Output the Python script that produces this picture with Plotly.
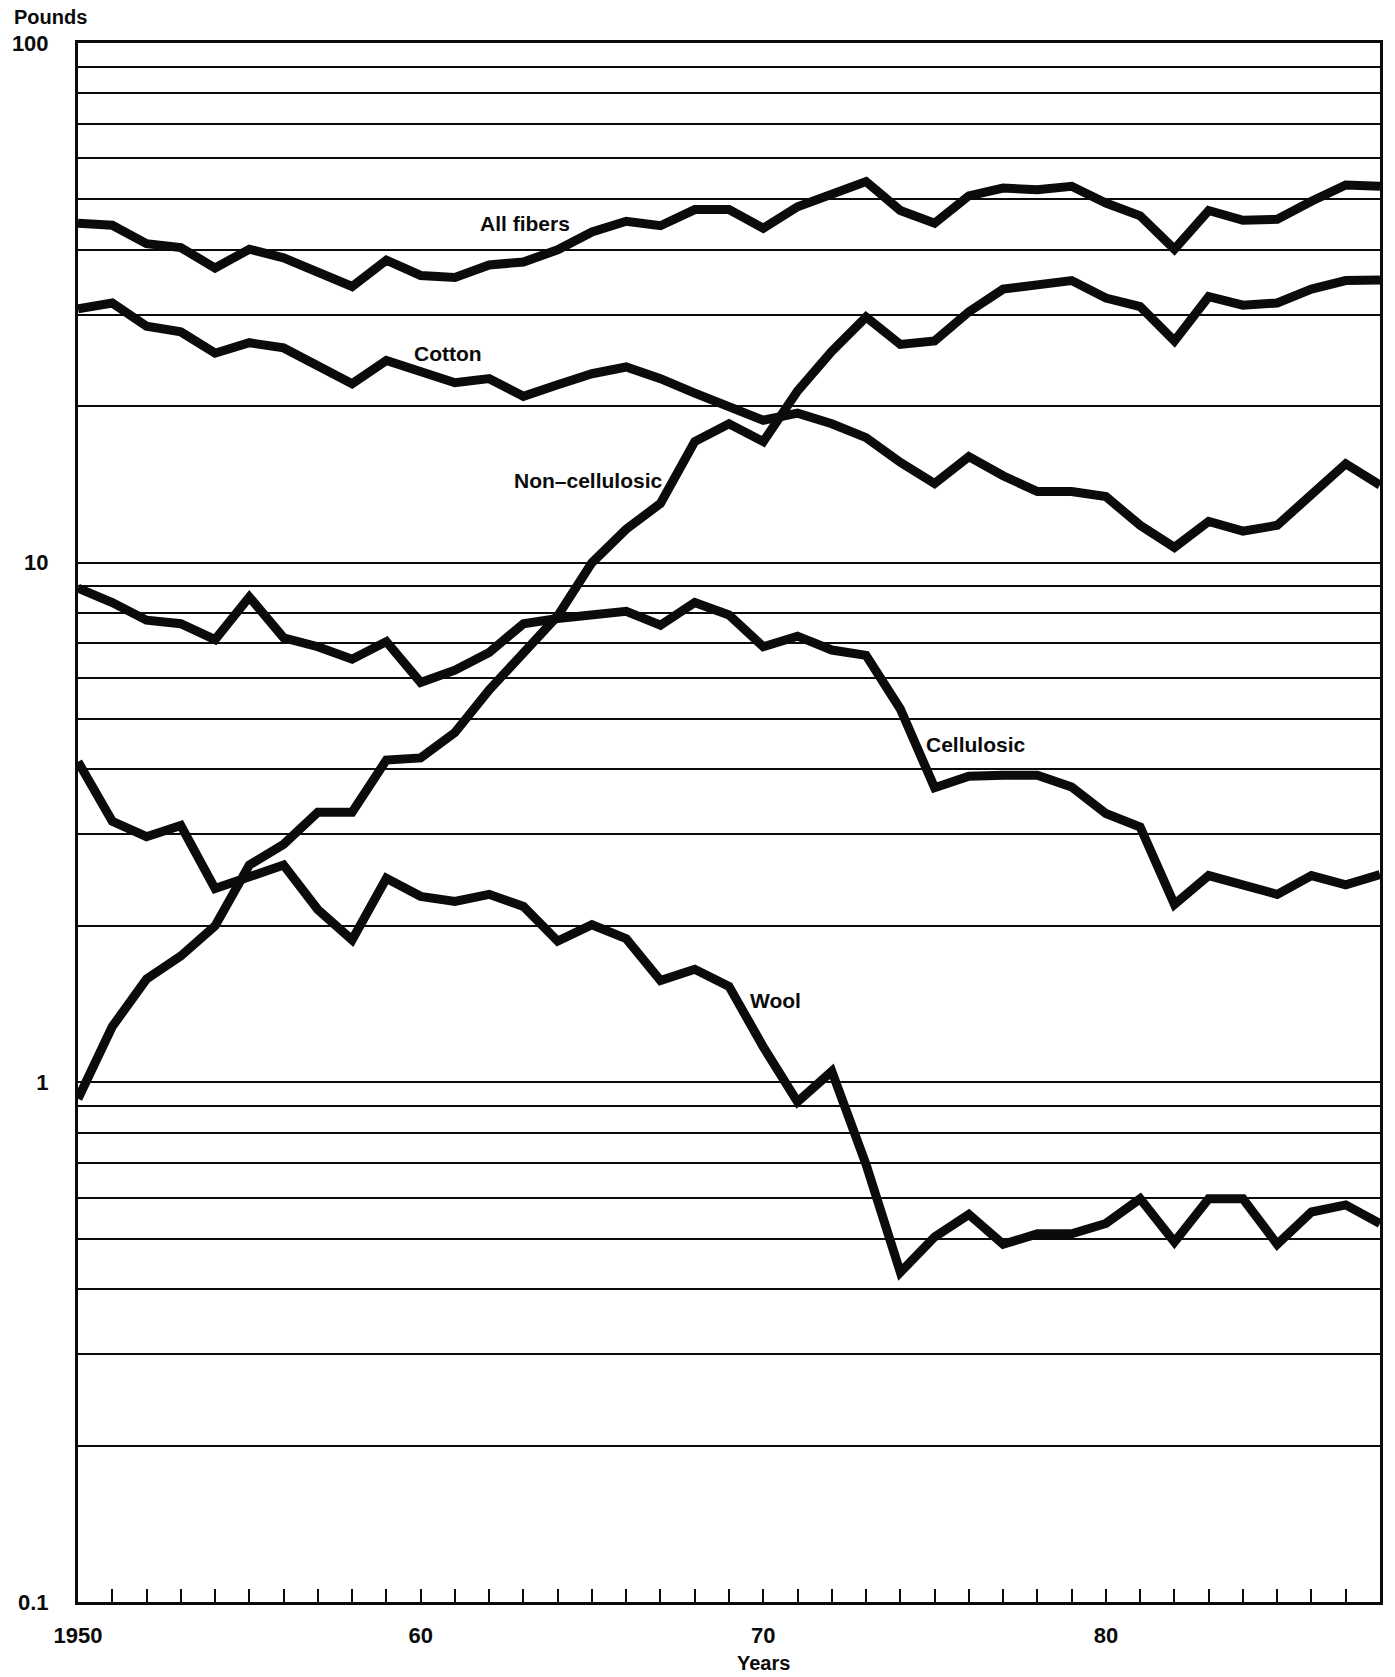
import math
import plotly.graph_objects as go

# Per-capita fiber consumption, pounds, 1950-1988
years = list(range(1950, 1989))

all_fibers = [45.0, 44.6, 41.1, 40.4, 36.9, 40.1, 38.6, 36.3, 34.0, 38.2, 35.7, 35.4, 37.4,
              37.9, 40.0, 43.3, 45.4, 44.5, 47.8, 47.8, 44.0, 48.4, 51.2, 54.1, 47.6, 45.0,
              50.8, 52.6, 52.2, 53.0, 49.2, 46.5, 40.1, 47.6, 45.6, 45.8, 49.6, 53.3, 53.0]

cotton = [30.8, 31.6, 28.5, 27.8, 25.3, 26.5, 25.9, 23.8, 22.1, 24.5, 23.4, 22.2, 22.6,
          20.9, 22.0, 23.1, 23.8, 22.6, 21.2, 20.0, 18.8, 19.4, 18.5, 17.4, 15.6, 14.2,
          16.0, 14.7, 13.7, 13.7, 13.4, 11.8, 10.7, 12.0, 11.5, 11.8, 13.6, 15.5, 14.1]

non_cellulosic = [0.93, 1.28, 1.58, 1.75, 2.0, 2.62, 2.87, 3.31, 3.31, 4.17, 4.21, 4.71, 5.69,
                  6.67, 7.9, 10.0, 11.6, 13.0, 17.1, 18.5, 17.1, 21.4, 25.5, 29.7, 26.3, 26.7,
                  30.4, 33.6, 34.4, 34.9, 32.3, 31.1, 26.7, 32.5, 31.3, 31.6, 33.6, 34.9, 35.0]

cellulosic = [8.93, 8.38, 7.75, 7.63, 7.11, 8.59, 7.17, 6.89, 6.52, 7.05, 5.88, 6.21, 6.72,
              7.63, 7.81, 7.93, 8.06, 7.58, 8.38, 7.93, 6.89, 7.22, 6.79, 6.63, 5.23, 3.69,
              3.88, 3.90, 3.90, 3.70, 3.29, 3.10, 2.20, 2.50, 2.39, 2.30, 2.50, 2.40, 2.51]

wool = [4.14, 3.18, 2.97, 3.12, 2.36, 2.48, 2.62, 2.15, 1.88, 2.47, 2.28, 2.23, 2.30,
        2.18, 1.87, 2.01, 1.89, 1.57, 1.65, 1.53, 1.17, 0.917, 1.05, 0.695, 0.431, 0.504,
        0.557, 0.488, 0.511, 0.511, 0.535, 0.597, 0.493, 0.597, 0.597, 0.488, 0.563, 0.581, 0.535]

series_names = ["All fibers", "Cotton", "Non–cellulosic", "Cellulosic", "Wool"]
series_values = [all_fibers, cotton, non_cellulosic, cellulosic, wool]

x_tick_vals = [1950, 1960, 1970, 1980]
x_tick_text = ["1950", "60", "70", "80"]
y_tick_vals = [0.1, 1, 10, 100]
y_tick_text = ["0.1", "1", "10", "100"]
y_grid_vals = [m * 10 ** e for e in (-1, 0, 1) for m in range(2, 10)]

# Where each series name sits: (year, pounds)
label_spots = {
    "All fibers": (1963.05, 44.9),
    "Cotton": (1960.8, 25.3),
    "Non–cellulosic": (1964.9, 14.4),
    "Cellulosic": (1976.2, 4.47),
    "Wool": (1970.35, 1.44),
}

FONT = "Liberation Sans, Arial, Helvetica, sans-serif"
INK = "#0b0b0b"

# Plot box in pixels
W, H = 1395, 1677
ML, MR, MT, MB = 74, 12, 43, 75
PW, PH = W - ML - MR, H - MT - MB

fig = go.Figure()
for name, vals in zip(series_names, series_values):
    fig.add_trace(go.Scatter(
        x=years, y=vals, mode="lines", name=name,
        line=dict(color=INK, width=9),
        cliponaxis=True, showlegend=False,
    ))

for name, (yr, val) in label_spots.items():
    fig.add_annotation(
        x=yr, y=math.log10(val), xref="x", yref="y", text=name, showarrow=False,
        font=dict(family=FONT, size=21, color=INK, weight="bold"),
        xanchor="center", yanchor="middle",
    )

fig.add_annotation(
    x=(8 - ML) / PW, xref="paper", xanchor="left",
    y=1 + (MT - 17) / PH, yref="paper", yanchor="middle",
    text="Pounds", showarrow=False,
    font=dict(family=FONT, size=20, color=INK, weight="bold"),
)
fig.add_annotation(
    x=1970, xref="x", y=-(1663 - (H - MB)) / PH, yref="paper",
    text="Years", showarrow=False, xanchor="center", yanchor="middle",
    font=dict(family=FONT, size=20, color=INK, weight="bold"),
)

tick_font = dict(family=FONT, size=22, color=INK, weight="bold")

fig.update_layout(
    width=W, height=H,
    margin=dict(l=ML, r=MR, t=MT, b=MB),
    paper_bgcolor="white", plot_bgcolor="white",
    font=dict(family=FONT, size=22, color=INK),
    xaxis=dict(
        range=[1950, 1988], tickmode="array", tickvals=x_tick_vals, ticktext=x_tick_text,
        ticks="inside", ticklen=13, tickwidth=2, tickcolor=INK,
        minor=dict(dtick=1, tick0=1950, ticks="inside", ticklen=13, tickwidth=2,
                   tickcolor=INK, showgrid=False),
        showgrid=False, zeroline=False,
        showline=True, mirror=True, linecolor=INK, linewidth=3,
        ticklabelstandoff=12,
        tickfont=tick_font,
    ),
    yaxis=dict(
        type="log", range=[-1, 2], tickmode="array", tickvals=y_tick_vals, ticktext=y_tick_text,
        ticks="", showgrid=True, gridcolor=INK, gridwidth=1.6,
        minor=dict(tickmode="array", tickvals=y_grid_vals, ticks="", showgrid=True,
                   gridcolor=INK, gridwidth=1.6),
        zeroline=False, showline=True, mirror=True, linecolor=INK, linewidth=3,
        ticklabelstandoff=22,
        tickfont=tick_font,
    ),
)

fig.write_html("out.html")
